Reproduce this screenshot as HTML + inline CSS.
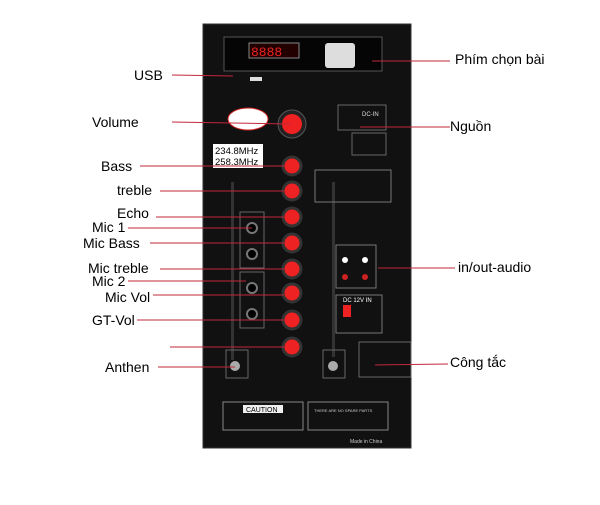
<!DOCTYPE html>
<html><head><meta charset="utf-8"><style>
body{margin:0;background:#fff;}
svg{display:block}
.l{font-family:"Liberation Sans","DejaVu Sans",sans-serif;font-size:14px;fill:#000}
.s{font-family:"Liberation Sans",sans-serif;font-size:4px;fill:#ccc}
</style></head><body>
<svg width="600" height="505" viewBox="0 0 600 505" xmlns="http://www.w3.org/2000/svg">
<rect width="600" height="505" fill="#fff"/>
<rect x="203" y="24" width="208" height="424" fill="#111"/>
<rect x="203" y="24" width="208" height="424" fill="none" stroke="#333"/>
<rect x="224" y="37" width="158" height="34" fill="#050505" stroke="#555"/>
<rect x="249" y="43" width="50" height="15" fill="#200" stroke="#888"/>
<text x="251" y="56" font-family="Liberation Mono" font-size="13" fill="#e22">8888</text>
<rect x="325" y="43" width="30" height="25" fill="#ddd" rx="3"/>
<rect x="250" y="77" width="12" height="4" fill="#ddd"/>
<ellipse cx="248" cy="119" rx="20" ry="11" fill="#fff" stroke="#c22"/>
<circle cx="292" cy="124" r="14" fill="#222" stroke="#555"/>
<circle cx="292" cy="124" r="10" fill="#e22"/>
<rect x="213" y="144" width="50" height="24" fill="#fff"/>
<text x="215" y="154" font-family="Liberation Sans" font-size="9.5">234.8MHz</text>
<text x="215" y="165" font-family="Liberation Sans" font-size="9.5">258.3MHz</text>
<g fill="#e22" stroke="#333" stroke-width="3">
<circle cx="292" cy="166" r="9"/><circle cx="292" cy="191" r="9"/><circle cx="292" cy="217" r="9"/>
<circle cx="292" cy="243" r="9"/><circle cx="292" cy="269" r="9"/><circle cx="292" cy="293" r="9"/>
<circle cx="292" cy="320" r="9"/><circle cx="292" cy="347" r="9"/>
</g>
<rect x="240" y="212" width="24" height="56" fill="none" stroke="#666"/>
<rect x="240" y="272" width="24" height="56" fill="none" stroke="#666"/>
<g fill="#000" stroke="#777" stroke-width="2"><circle cx="252" cy="228" r="5"/><circle cx="252" cy="254" r="5"/><circle cx="252" cy="288" r="5"/><circle cx="252" cy="314" r="5"/></g>
<rect x="231" y="182" width="3" height="178" fill="#333"/>
<rect x="226" y="350" width="22" height="28" fill="none" stroke="#666"/>
<circle cx="235" cy="366" r="5" fill="#aaa"/>
<rect x="332" y="182" width="3" height="175" fill="#333"/>
<rect x="323" y="350" width="22" height="28" fill="none" stroke="#666"/>
<circle cx="333" cy="366" r="5" fill="#aaa"/>
<rect x="338" y="105" width="48" height="25" fill="none" stroke="#666"/>
<text x="362" y="116" font-family="Liberation Sans" font-size="6" fill="#ddd">DC-IN</text>
<rect x="352" y="133" width="34" height="22" fill="none" stroke="#666"/>
<rect x="315" y="170" width="76" height="32" fill="none" stroke="#777"/>
<rect x="336" y="245" width="40" height="43" fill="none" stroke="#777"/>
<g fill="#fff"><circle cx="345" cy="260" r="3"/><circle cx="365" cy="260" r="3"/></g>
<g fill="#c22"><circle cx="345" cy="277" r="3"/><circle cx="365" cy="277" r="3"/></g>
<rect x="336" y="295" width="46" height="38" fill="none" stroke="#777"/>
<text x="343" y="302" font-family="Liberation Sans" font-size="6" fill="#fff">DC 12V IN</text>
<rect x="343" y="305" width="8" height="12" fill="#e22"/>
<rect x="359" y="342" width="52" height="35" fill="none" stroke="#666"/>
<rect x="223" y="402" width="80" height="28" fill="none" stroke="#888"/>
<rect x="243" y="405" width="40" height="8" fill="#eee"/>
<text x="246" y="412" font-family="Liberation Sans" font-size="7" fill="#000">CAUTION</text>
<rect x="308" y="402" width="80" height="28" fill="none" stroke="#888"/>
<text x="314" y="412" class="s">THERE ARE NO SPARE PARTS</text>
<text x="350" y="443" font-family="Liberation Sans" font-size="5" fill="#ccc">Made in China</text>
<g stroke="#c0283a" stroke-width="1">
<line x1="172" y1="75" x2="233" y2="76"/><line x1="172" y1="122" x2="290" y2="124"/>
<line x1="140" y1="166" x2="284" y2="166"/><line x1="160" y1="191" x2="284" y2="191"/>
<line x1="156" y1="217" x2="284" y2="217"/><line x1="128" y1="228" x2="252" y2="228"/>
<line x1="150" y1="243" x2="284" y2="243"/><line x1="160" y1="269" x2="284" y2="269"/>
<line x1="128" y1="281" x2="246" y2="281"/><line x1="153" y1="295" x2="284" y2="295"/>
<line x1="137" y1="320" x2="284" y2="320"/><line x1="170" y1="347" x2="284" y2="347"/>
<line x1="158" y1="367" x2="235" y2="367"/>
<line x1="372" y1="61" x2="450" y2="61"/><line x1="360" y1="127" x2="450" y2="127"/>
<line x1="378" y1="268" x2="455" y2="268"/><line x1="375" y1="365" x2="448" y2="364"/>
</g>
<text class="l" x="134" y="80">USB</text>
<text class="l" x="92" y="127">Volume</text>
<text class="l" x="101" y="171">Bass</text>
<text class="l" x="117" y="195">treble</text>
<text class="l" x="117" y="218">Echo</text>
<text class="l" x="92" y="232">Mic 1</text>
<text class="l" x="83" y="248">Mic Bass</text>
<text class="l" x="88" y="273">Mic treble</text>
<text class="l" x="92" y="286">Mic 2</text>
<text class="l" x="105" y="302">Mic Vol</text>
<text class="l" x="92" y="325">GT-Vol</text>
<text class="l" x="105" y="372">Anthen</text>
<text class="l" x="455" y="64">Phím chọn bài</text>
<text class="l" x="450" y="131">Nguồn</text>
<text class="l" x="458" y="272">in/out-audio</text>
<text class="l" x="450" y="367">Công tắc</text>
</svg>
</body></html>
